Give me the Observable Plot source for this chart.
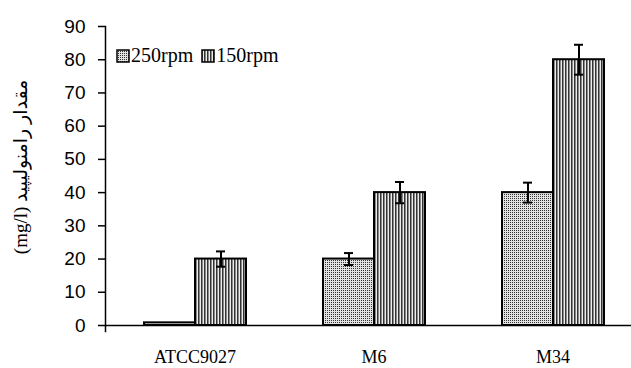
<!DOCTYPE html>
<html>
<head>
<meta charset="utf-8">
<script src="https://cdn.jsdelivr.net/npm/d3@7"></script>
<script src="https://cdn.jsdelivr.net/npm/@observablehq/plot@0.6"></script>
<style>
  html, body { margin: 0; padding: 0; background: #fff; }
  #wrap { position: relative; width: 631px; height: 368px; }
  #legend { position: absolute; left: 116px; top: 44px; font-family: "Liberation Serif", "Times New Roman", serif; font-size: 20px; color: #000; display: flex; align-items: center; white-space: nowrap; }
  #legend .item { display: flex; align-items: center; margin-right: 8px; }
  #legend svg { margin-right: 1px; }
</style>
</head>
<body>
<svg width="0" height="0" style="position:absolute">
  <defs>
    <pattern id="p250" width="2" height="2" patternUnits="userSpaceOnUse">
      <rect width="2" height="2" fill="#e2e2e2"/>
      <rect width="1" height="1" fill="#333"/>
    </pattern>
    <pattern id="p150" width="3" height="3" patternUnits="userSpaceOnUse">
      <rect width="3" height="3" fill="#ececec"/>
      <rect width="1" height="3" fill="#333"/>
      <rect x="1" width="1" height="3" fill="#8a8a8a"/>
    </pattern>
  </defs>
</svg>
<div id="wrap"></div>
<script>
const categories = ["ATCC9027", "M6", "M34"];
const series = ["250rpm", "150rpm"];
const values250 = [0.8, 20, 40];
const values150 = [20, 40, 80];
const err250 = [0, 1.8, 3];
const err150 = [2.3, 3.2, 4.5];
const yTicks = [0, 10, 20, 30, 40, 50, 60, 70, 80, 90];
const yLabel = "(mg/l) مقدار رامنولیپید";
const fills = ["url(#p250)", "url(#p150)"];

const data = [];
categories.forEach((c, i) => {
  data.push({cat: c, series: series[0], value: values250[i], err: err250[i]});
  data.push({cat: c, series: series[1], value: values150[i], err: err150[i]});
});
const errData = data.filter(d => d.err > 0);

const chart = Plot.plot({
  width: 631,
  height: 368,
  marginLeft: 105,
  marginRight: 0,
  marginTop: 26,
  marginBottom: 43,
  style: {background: "#fff", overflow: "visible"},
  fx: {domain: categories, range: [105, 642], paddingInner: 0, paddingOuter: 0, label: null},
  x: {domain: series, paddingInner: 0, paddingOuter: 0.738, axis: null},
  y: {domain: [0, 90], ticks: yTicks},
  color: {type: "ordinal", domain: series, range: fills},
  marks: [
    Plot.barY(data, {fx: "cat", x: "series", y: "value", fill: "series", stroke: "#000", strokeWidth: 2}),
    Plot.ruleY([0], {stroke: "#000", strokeWidth: 1.5}),
    Plot.frame({anchor: "left", facetAnchor: "left", stroke: "#000", strokeWidth: 1.5, insetBottom: -6}),
    Plot.ruleX(errData, {fx: "cat", x: "series", y1: d => d.value - d.err, y2: d => d.value + d.err, stroke: "#000", strokeWidth: 2}),
    Plot.tickY(errData, {fx: "cat", x: "series", y: d => d.value - d.err, insetLeft: 21, insetRight: 21, stroke: "#000", strokeWidth: 2}),
    Plot.tickY(errData, {fx: "cat", x: "series", y: d => d.value + d.err, insetLeft: 21, insetRight: 21, stroke: "#000", strokeWidth: 2}),
    Plot.axisY({
      ticks: yTicks, tickSize: 7, tickPadding: 13, tickFormat: d => String(d),
      fontSize: 19, fontFamily: "Liberation Sans, Arial, sans-serif", stroke: "#000", strokeWidth: 1.5,
      label: yLabel, labelAnchor: "center", labelArrow: "none", labelOffset: 92
    }),
    Plot.axisFx({anchor: "bottom", tickSize: 0, tickPadding: 25, label: null, fontSize: 18, fontFamily: "Liberation Serif, Times New Roman, serif"})
  ]
});
document.getElementById("wrap").appendChild(chart);

// style y label font
chart.querySelectorAll("text").forEach(t => {
  if (t.textContent === yLabel) {
    t.setAttribute("font-family", "Liberation Serif, DejaVu Sans, serif");
    t.setAttribute("font-size", "19");
    t.setAttribute("dx", "9");
  }
});

// legend (HTML, over the chart)
const legend = document.createElement("div");
legend.id = "legend";
series.forEach((s, i) => {
  const item = document.createElement("div");
  item.className = "item";
  item.innerHTML = `<svg width="14" height="14"><rect x="1" y="1" width="12" height="12" fill="${fills[i]}" stroke="#000" stroke-width="1.5"/></svg><span>${s}</span>`;
  legend.appendChild(item);
});
document.getElementById("wrap").appendChild(legend);
</script>
</body>
</html>
